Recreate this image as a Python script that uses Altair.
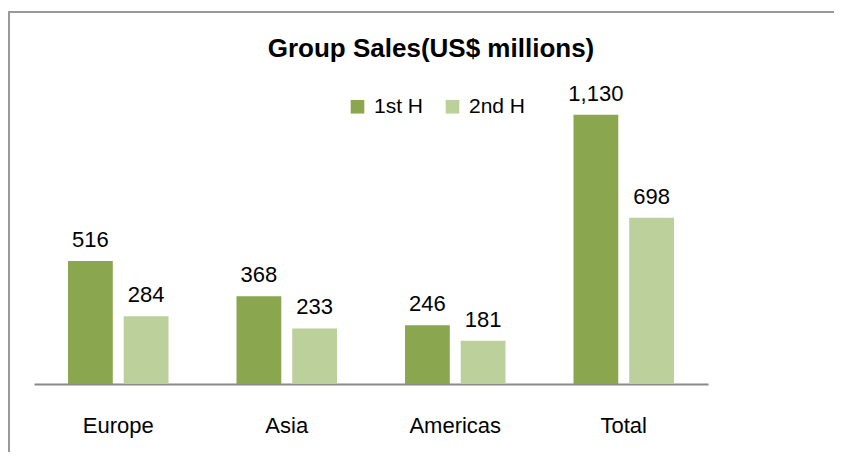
import altair as alt
import pandas as pd

regions = ["Europe", "Asia", "Americas", "Total"]
halves = ["1st H", "2nd H"]
first_h = [516, 368, 246, 1130]
second_h = [284, 233, 181, 698]
labels_1 = ["516", "368", "246", "1,130"]
labels_2 = ["284", "233", "181", "698"]
colors = ["#8aa64e", "#bbd09a"]
title_text = "Group Sales(US$ millions)"

rows = []
for i, r in enumerate(regions):
    rows.append({"region": r, "half": halves[0], "value": first_h[i], "label": labels_1[i]})
    rows.append({"region": r, "half": halves[1], "value": second_h[i], "label": labels_2[i]})
df = pd.DataFrame(rows)

FONT = "Liberation Sans"

x = alt.X("region:N", sort=regions, title=None,
          scale=alt.Scale(paddingInner=0, paddingOuter=0),
          axis=alt.Axis(labelAngle=0, ticks=False, labelFontSize=22, labelColor="#000000",
                        labelFont=FONT, labelPadding=31, domainColor="#8a8a8a",
                        domainWidth=2, grid=False))
xo = alt.XOffset("half:N", sort=halves,
                 scale=alt.Scale(paddingInner=0.196, paddingOuter=0.61))
y = alt.Y("value:Q", scale=alt.Scale(domain=[0, 1200]), axis=None)

bars = alt.Chart(df).mark_bar().encode(
    x=x, xOffset=xo, y=y,
    color=alt.Color("half:N", sort=halves,
                    scale=alt.Scale(domain=halves, range=colors),
                    legend=alt.Legend(title=None, orient="none", direction="horizontal",
                                      legendX=313, legendY=-2, symbolType="square",
                                      symbolSize=185, symbolStrokeWidth=0,
                                      labelFontSize=21, labelFont=FONT, labelColor="#000000",
                                      labelOffset=6, columnPadding=18)),
)

texts = alt.Chart(df).mark_text(baseline="alphabetic", dy=-14, fontSize=22,
                                font=FONT, color="#000000").encode(
    x=x, xOffset=xo, y=y, text="label:N")

title = alt.Chart(pd.DataFrame({"t": [title_text]})).mark_text(
    baseline="alphabetic", align="center", fontSize=26, font=FONT,
    fontWeight="bold", color="#000000").encode(
    x=alt.value(397), y=alt.value(-41), text="t:N")

frame_top = alt.Chart(df).mark_rule(color="#999999", strokeWidth=2).encode(
    x=alt.value(-26), x2=alt.value(800), y=alt.value(-86))
frame_left = alt.Chart(df).mark_rule(color="#999999", strokeWidth=2).encode(
    x=alt.value(-25), y=alt.value(-86), y2=alt.value(360))

chart = alt.layer(frame_top, frame_left, title, bars, texts).properties(
    width=674, height=286,
    autosize=alt.AutoSizeParams(type="none"),
    padding={"left": 26, "top": 90, "right": 126, "bottom": 68},
).configure_view(stroke=None)

chart.save("out.html", embed_options={"renderer": "svg", "actions": False})
